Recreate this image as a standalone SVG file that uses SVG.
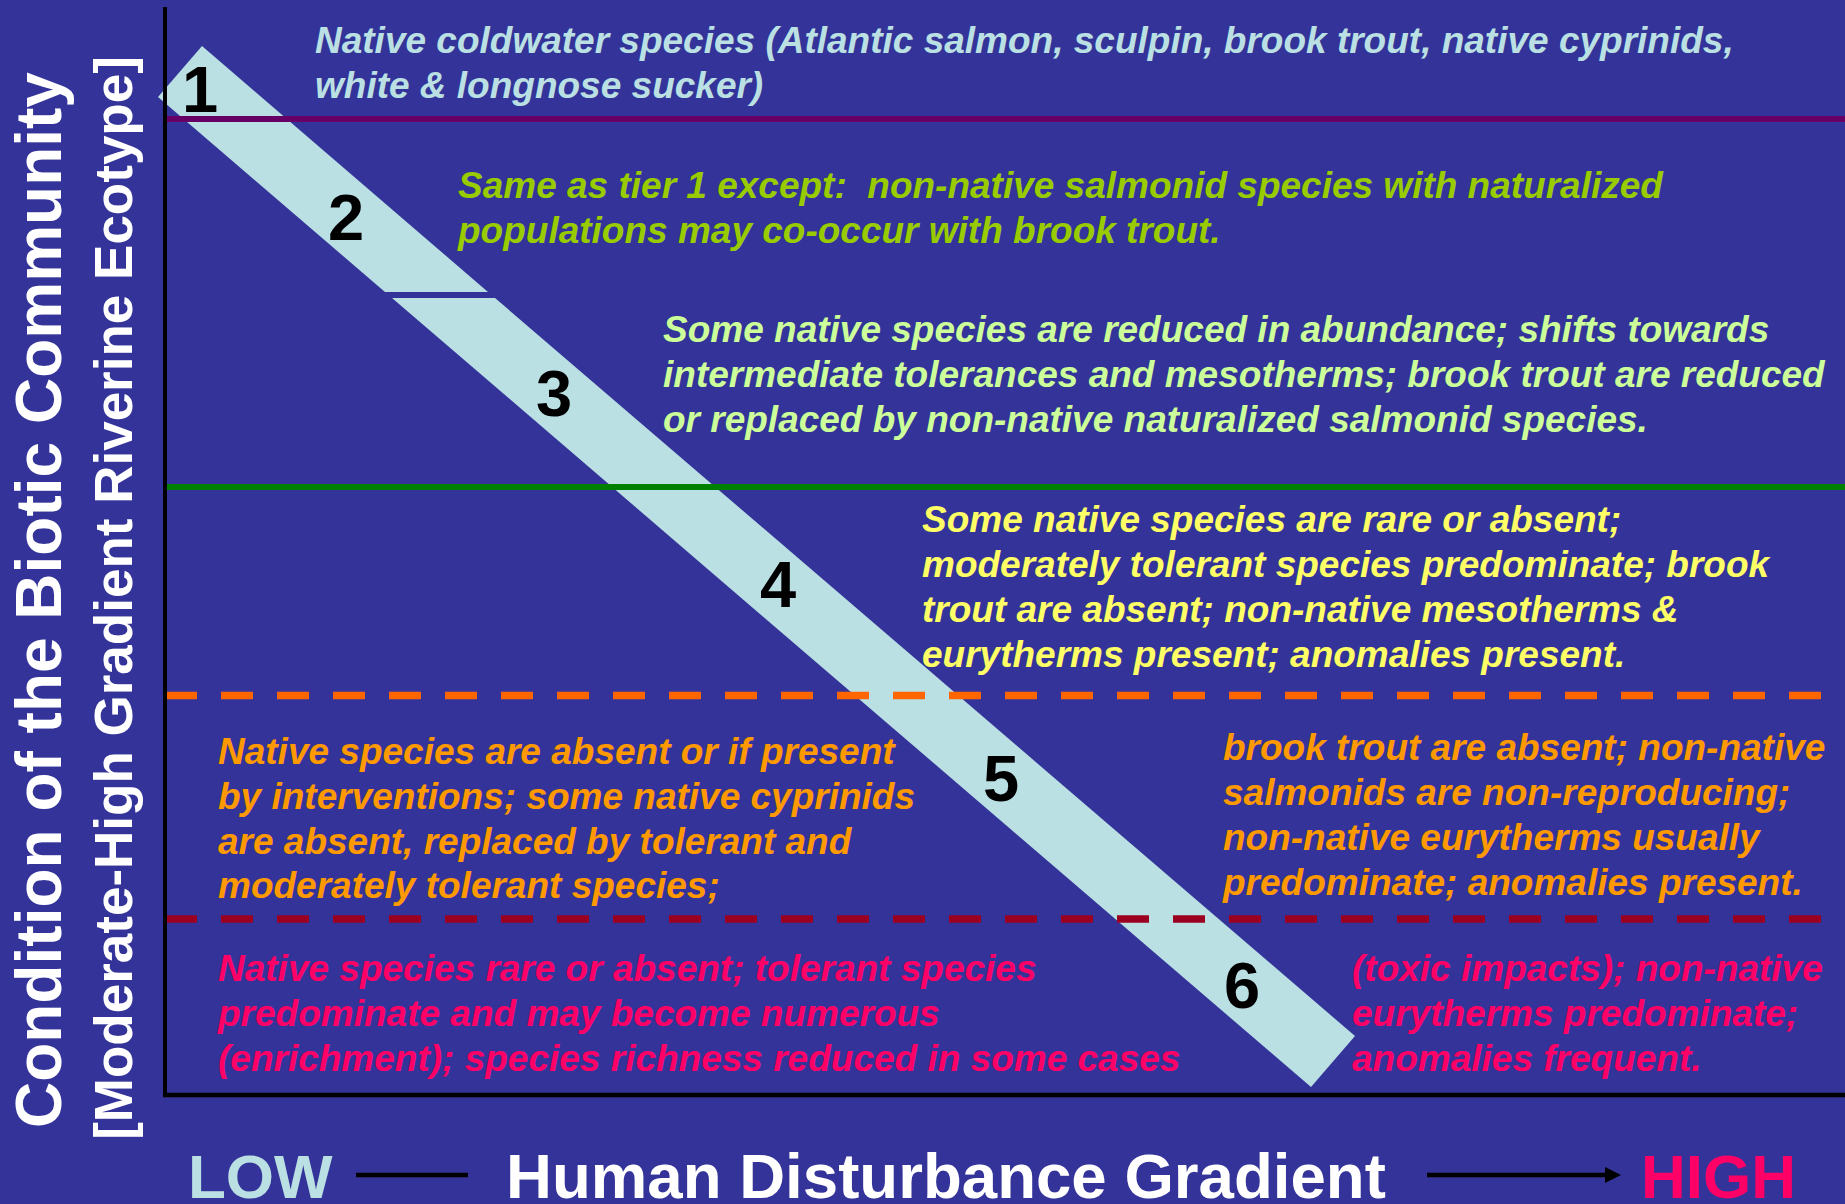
<svg xmlns="http://www.w3.org/2000/svg" width="1845" height="1204" viewBox="0 0 1845 1204">
<defs>
<style>
.t{font-family:"Liberation Sans",Arial,sans-serif;font-weight:bold;font-style:italic;font-size:37px}
.num{font-family:"Liberation Sans",Arial,sans-serif;font-weight:bold;font-size:65px;fill:#000;text-anchor:middle}
.ax{font-family:"Liberation Sans",Arial,sans-serif;font-weight:bold;fill:#fff}
.band{fill:#BBE0E3}
.dash{stroke-width:7.5;stroke-dasharray:32 24;fill:none}
</style>
<marker id="arr" viewBox="0 0 16 16" refX="0" refY="8" markerWidth="16" markerHeight="16" markerUnits="userSpaceOnUse" orient="auto">
<path d="M0,0 L16,8 L0,16 Z" fill="#000"/>
</marker>
</defs>
<rect width="1845" height="1204" fill="#333399"/>

<g id="band">
<polygon class="band" points="202,46 488,292 385,292 158,97"/>
<polygon class="band" points="392,298 495,298 1355,1036 1311,1087"/>
</g>

<g id="tier-lines">
<line x1="165" y1="119" x2="1845" y2="119" stroke="#660066" stroke-width="6"/>
<line x1="165" y1="487" x2="1845" y2="487" stroke="#008000" stroke-width="6"/>
<line class="dash" x1="165" y1="695.5" x2="1845" y2="695.5" stroke="#FF6600"/>
<line class="dash" x1="165" y1="919" x2="1845" y2="919" stroke="#9C0020"/>
</g>

<g id="axes">
<line x1="165" y1="7" x2="165" y2="1097" stroke="#000" stroke-width="4"/>
<line x1="163" y1="1095" x2="1845" y2="1095" stroke="#000" stroke-width="4.5"/>
</g>

<g id="numbers">
<text class="num" x="200" y="112">1</text>
<text class="num" x="346" y="240">2</text>
<text class="num" x="554" y="416">3</text>
<text class="num" x="778" y="607">4</text>
<text class="num" x="1001" y="801">5</text>
<text class="num" x="1242" y="1008">6</text>
</g>

<g id="tier1" class="t" fill="#BBE0E3">
<text x="315" y="53">Native coldwater species (Atlantic salmon, sculpin, brook trout, native cyprinids,</text>
<text x="315" y="98">white &amp; longnose sucker)</text>
</g>

<g id="tier2" class="t" fill="#99CC00">
<text x="458" y="198" xml:space="preserve">Same as tier 1 except:  non-native salmonid species with naturalized</text>
<text x="458" y="243">populations may co-occur with brook trout.</text>
</g>

<g id="tier3" class="t" fill="#CCFF99">
<text x="663" y="342">Some native species are reduced in abundance; shifts towards</text>
<text x="663" y="387">intermediate tolerances and mesotherms; brook trout are reduced</text>
<text x="663" y="432">or replaced by non-native naturalized salmonid species.</text>
</g>

<g id="tier4" class="t" fill="#FFFF66">
<text x="922" y="532">Some native species are rare or absent;</text>
<text x="922" y="577">moderately tolerant species predominate; brook</text>
<text x="922" y="622">trout are absent; non-native mesotherms &amp;</text>
<text x="922" y="667">eurytherms present; anomalies present.</text>
</g>

<g id="tier5" class="t" fill="#FF9900">
<text x="218" y="764">Native species are absent or if present</text>
<text x="218" y="809">by interventions; some native cyprinids</text>
<text x="218" y="854">are absent, replaced by tolerant and</text>
<text x="218" y="898">moderately tolerant species;</text>
<text x="1223" y="760">brook trout are absent; non-native</text>
<text x="1223" y="805">salmonids are non-reproducing;</text>
<text x="1223" y="850">non-native eurytherms usually</text>
<text x="1223" y="895">predominate; anomalies present.</text>
</g>

<g id="tier6" class="t" fill="#FF0066">
<text x="218" y="981">Native species rare or absent; tolerant species</text>
<text x="218" y="1026">predominate and may become numerous</text>
<text x="218" y="1071">(enrichment); species richness reduced in some cases</text>
<text x="1352" y="981">(toxic impacts); non-native</text>
<text x="1352" y="1026">eurytherms predominate;</text>
<text x="1352" y="1071">anomalies frequent.</text>
</g>

<g id="y-axis-title" class="ax" text-anchor="middle">
<text font-size="64" transform="translate(61,600) rotate(-90)">Condition of the Biotic Community</text>
<text font-size="53" transform="translate(132,598) rotate(-90)">[Moderate-High Gradient Riverine Ecotype]</text>
</g>

<g id="x-axis-title" class="ax" font-size="62">
<text x="188" y="1198" fill="#BBE0E3">LOW</text>
<text x="506" y="1198" font-size="63.6">Human Disturbance Gradient</text>
<text x="1641" y="1198" fill="#FF0066">HIGH</text>
<line x1="356" y1="1175" x2="468" y2="1175" stroke="#000" stroke-width="4.5"/>
<line x1="1427" y1="1175" x2="1605" y2="1175" stroke="#000" stroke-width="4.5" marker-end="url(#arr)"/>
</g>
</svg>
